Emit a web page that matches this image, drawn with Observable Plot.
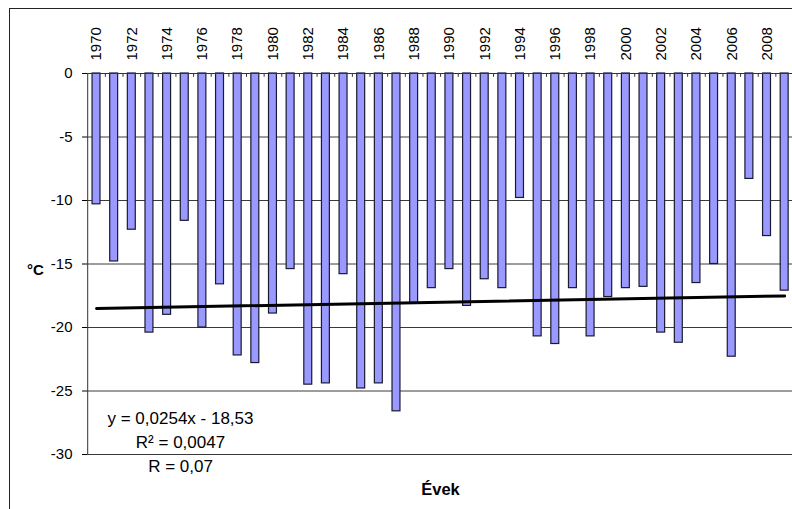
<!DOCTYPE html>
<html><head><meta charset="utf-8">
<script src="https://cdn.jsdelivr.net/npm/d3@7"></script>
<script src="https://cdn.jsdelivr.net/npm/@observablehq/plot@0.6"></script>
<style>
html,body{margin:0;padding:0;background:#fff;overflow:hidden;}
#wrap{position:relative;width:792px;height:509px;overflow:hidden;}
#border{position:absolute;left:9px;top:8px;width:900px;height:600px;border-left:1.5px solid #222;border-top:1.5px solid #222;}
#wrap svg{position:absolute;left:0;top:0;}
</style></head><body><div id="wrap"><div id="border"></div></div>
<script>
const years = [1970,1971,1972,1973,1974,1975,1976,1977,1978,1979,
               1980,1981,1982,1983,1984,1985,1986,1987,1988,1989,
               1990,1991,1992,1993,1994,1995,1996,1997,1998,1999,
               2000,2001,2002,2003,2004,2005,2006,2007,2008,2009];
const temps = [-10.3,-14.8,-12.3,-20.4,-19.0,-11.6,-20.0,-16.6,-22.2,-22.8,
               -18.9,-15.4,-24.5,-24.4,-15.8,-24.8,-24.4,-26.6,-18.1,-16.9,
               -15.4,-18.3,-16.2,-16.9,-9.8,-20.7,-21.3,-16.9,-20.7,-17.6,
               -16.9,-16.8,-20.4,-21.2,-16.5,-15.0,-22.3,-8.3,-12.8,-17.1];
const tickYears = [1970,1972,1974,1976,1978,1980,1982,1984,1986,1988,
                   1990,1992,1994,1996,1998,2000,2002,2004,2006,2008];
const yTicks = [0,-5,-10,-15,-20,-25,-30];
const trendSlope = 0.0254;
const trendIntercept = -18.53;
const equationLines = ["y = 0,0254x - 18,53", "R² = 0,0047", "R = 0,07"];
const yTitle = "°C";
const xTitle = "Évek";

const data = years.map((year, i) => ({year, temp: temps[i]}));
const bounds = years.map(y => y + 0.5);
const trend = [years[0], years[years.length - 1]].map(y => ({year: y, temp: trendIntercept + trendSlope * (y - years[0] + 1)}));
const half = 0.225;

const chart = Plot.plot({
  width: 792, height: 509,
  marginTop: 73, marginBottom: 55, marginLeft: 87, marginRight: 0,
  style: {fontFamily: '"Liberation Sans", Arial, sans-serif', fontSize: "15px", background: "transparent", color: "#000", overflow: "visible"},
  x: {type: "linear", domain: [1969.5, 2009.5], range: [87.2, 793], axis: null},
  y: {domain: [-30, 0], range: [454, 73], axis: null},
  marks: [
    Plot.gridY(yTicks.filter(t => t !== 0), {stroke: "#3a3a3a", strokeOpacity: 1, strokeWidth: 1}),
    Plot.rectY(data, {x1: d => d.year - half, x2: d => d.year + half, y1: 0, y2: "temp", fill: "#9999ff", stroke: "#1a1a30", strokeWidth: 1.2}),
    Plot.ruleY([0], {stroke: "#333"}),
    Plot.ruleX(bounds, {x: d => d, y1: 0, y2: -0.3, stroke: "#333"}),
    Plot.ruleX([1969.5], {y1: -30, y2: 0, stroke: "#333"}),
    Plot.axisY({ticks: yTicks, tickSize: 5, tickPadding: 10, tickFormat: d => String(d), fontSize: 15, label: null}),
    Plot.text(tickYears, {x: d => d, y: 0, text: d => String(d), rotate: -90, textAnchor: "start", dy: -13, fontSize: 15}),
    Plot.line(trend, {x: "year", y: "temp", stroke: "#000", strokeWidth: 3}),
    Plot.text([equationLines.join("\n")], {text: d => d, frameAnchor: "top-left", dx: 93, dy: 367, textAnchor: "middle", lineAnchor: "middle", lineHeight: 1.4, fontSize: 17}),
    Plot.text([yTitle], {text: d => d, frameAnchor: "top-left", dx: 35 - 87, dy: 264 - 73, textAnchor: "middle", fontWeight: "bold", fontSize: 15}),
    Plot.text([xTitle], {text: d => d, frameAnchor: "top-left", dx: 440 - 87, dy: 483 - 73, textAnchor: "middle", fontWeight: "bold", fontSize: 16.5})
  ]
});
document.getElementById("wrap").appendChild(chart);
</script>
</body></html>
